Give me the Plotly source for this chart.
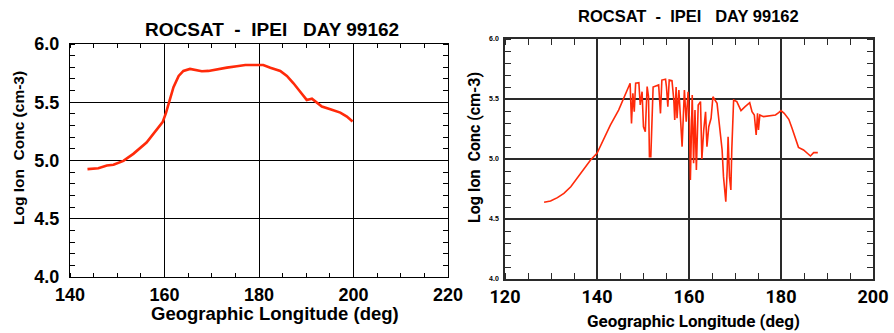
import plotly.graph_objects as go

# Pass 1: smooth profile (longitude in deg, log10 ion concentration)
lon_a = [143.7, 146.0, 147.8, 149.2, 151.3, 153.4, 156.2, 158.4, 159.6, 160.3,
         161.0, 161.9, 163.0, 164.0, 165.4, 166.5, 167.9, 169.3, 171.1, 173.2,
         175.3, 177.1, 178.8, 180.9, 182.4, 184.5, 185.9, 187.3, 189.1, 190.1,
         191.2, 191.9, 193.3, 195.1, 197.2, 198.6, 199.8]
conc_a = [4.926, 4.934, 4.957, 4.963, 4.997, 5.057, 5.154, 5.263, 5.329, 5.406,
          5.506, 5.629, 5.726, 5.769, 5.786, 5.780, 5.766, 5.769, 5.783, 5.797,
          5.809, 5.820, 5.820, 5.820, 5.797, 5.769, 5.726, 5.663, 5.571, 5.520,
          5.531, 5.506, 5.463, 5.440, 5.411, 5.377, 5.334]

# Pass 2: structured profile with depletions
lon_b = [128.5, 129.9, 131.4, 132.8, 134.3, 135.7, 137.2, 138.6, 140.0, 141.4,
         142.9, 144.7, 146.2, 147.2, 147.5, 147.8, 148.1, 148.4, 149.1, 149.4,
         149.8, 150.1, 150.5, 150.9, 151.2, 151.4, 151.7, 151.96, 152.2, 153.4,
         153.8, 154.1, 154.9, 155.1, 155.4, 155.7, 156.3, 156.7, 156.9, 157.2,
         157.4, 157.8, 158.1, 158.5, 159.0, 159.4, 159.8, 160.1, 160.3, 160.7,
         161.0, 161.3, 161.6, 162.0, 162.5, 162.8, 163.2, 163.6, 163.9, 164.3,
         164.8, 165.2, 166.1, 166.7, 167.2, 167.5, 168.0, 168.3, 168.5, 168.8,
         169.1, 169.3, 169.7, 170.4, 171.3, 172.2, 173.2, 173.7, 174.2, 174.6,
         174.9, 175.1, 175.4, 176.2, 177.7, 178.8, 179.5, 180.0, 180.7, 181.7,
         182.4, 183.1, 183.8, 184.9, 185.7, 186.4, 187.1, 188.0]
conc_b = [4.639, 4.650, 4.678, 4.714, 4.769, 4.839, 4.914, 4.992, 5.047, 5.158,
          5.283, 5.408, 5.533, 5.631, 5.297, 5.547, 5.394, 5.631, 5.636, 5.450,
          5.561, 5.269, 5.228, 5.603, 5.520, 5.019, 5.019, 5.270, 5.600, 5.617,
          5.380, 5.658, 5.664, 5.600, 5.436, 5.658, 5.653, 5.490, 5.325, 5.600,
          5.339, 5.575, 5.380, 5.103, 5.575, 5.311, 5.561, 5.325, 4.825, 5.533,
          4.964, 5.408, 4.908, 5.450, 5.478, 5.000, 5.242, 5.394, 5.103, 5.269,
          5.339, 5.519, 5.464, 5.269, 5.075, 4.853, 4.644, 4.908, 5.186, 4.853,
          4.742, 5.075, 5.492, 5.478, 5.403, 5.436, 5.469, 5.394, 5.367, 5.200,
          5.380, 5.242, 5.367, 5.353, 5.361, 5.367, 5.386, 5.403, 5.381, 5.331,
          5.256, 5.172, 5.097, 5.075, 5.047, 5.025, 5.053, 5.053]

title_text = "ROCSAT  -  IPEI   DAY 99162"
xlabel = "Geographic Longitude (deg)"
ylabel = "Log Ion  Conc (cm-3)"
xticks_a = [140, 160, 180, 200, 220]
xticks_b = [120, 140, 160, 180, 200]
yticks = [4.0, 4.5, 5.0, 5.5, 6.0]

LINE = "#ff2a0a"
W, H = 894, 333
LIB = "Liberation Sans, Arial, sans-serif"
ROB = "Roboto, Liberation Sans, sans-serif"

fig = go.Figure()
fig.add_trace(go.Scatter(x=lon_a, y=conc_a, mode="lines", xaxis="x", yaxis="y",
                         line=dict(color=LINE, width=2.6), showlegend=False))
fig.add_trace(go.Scatter(x=lon_b, y=conc_b, mode="lines", xaxis="x2", yaxis="y2",
                         line=dict(color=LINE, width=1.6), showlegend=False))
# empty traces that hold the tick-only overlay subplots
fig.add_trace(go.Scatter(x=[None], y=[None], xaxis="x3", yaxis="y3", showlegend=False))
fig.add_trace(go.Scatter(x=[None], y=[None], xaxis="x4", yaxis="y4", showlegend=False))


def axis(rng, tickvals, dom, anchor, lw, lc, family, size, fmt, gap, dtick, ticklen):
    # labelled axis carrying the frame, the major grid and the minor ticks;
    # the invisible major tick sets the gap between frame and labels
    return dict(domain=dom, anchor=anchor, range=rng, tickmode="array",
                tickvals=tickvals,
                ticktext=["<b>" + fmt.format(v) + "</b>" for v in tickvals],
                showline=True, linecolor=lc, linewidth=lw, mirror="allticks",
                showgrid=True, gridcolor=lc, gridwidth=lw, zeroline=False,
                ticks="outside", ticklen=gap, tickcolor="rgba(0,0,0,0)",
                tickfont=dict(family=family, size=size, color="black"),
                minor=dict(tickmode="linear", tick0=0, dtick=dtick, ticks="inside",
                           ticklen=ticklen, tickcolor=lc, showgrid=False))


def tick_axis(rng, dom, overlay, anchor, side, dtick, ticklen, lc):
    # overlay axis drawing the short inward ticks on both edges of the frame;
    # its own labels are kept tiny and fully transparent
    return dict(domain=dom, range=rng, overlaying=overlay, anchor=anchor, side=side,
                tickmode="linear", tick0=0, dtick=dtick, ticks="inside",
                ticklen=ticklen, tickcolor=lc, mirror="ticks",
                tickfont=dict(size=1, color="rgba(0,0,0,0)"),
                showgrid=False, zeroline=False)


dx_a = [70 / W, 448 / W]
dy_a = [1 - 277 / H, 1 - 44 / H]
dx_b = [505 / W, 873 / W]
dy_b = [1 - 279 / H, 1 - 39 / H]

fig.update_layout(
    width=W, height=H, margin=dict(l=0, r=0, t=0, b=0, autoexpand=False),
    plot_bgcolor="rgba(0,0,0,0)", paper_bgcolor="white",
    xaxis=axis([140, 220], xticks_a, dx_a, "y", 1, "black", LIB, 18, "{:d}", 1, 5, 4),
    yaxis=axis([4.0, 6.0], yticks, dy_a, "x", 1, "black", LIB, 18, "{:.1f}", 6, 0.1, 5),
    xaxis2=axis([120, 200], xticks_b, dx_b, "y2", 1.5, "#2a2a2a", ROB, 18, "{:d}", 1, 5, 6),
    yaxis2=axis([4.0, 6.0], yticks, dy_b, "x2", 1.5, "#2a2a2a", LIB, 7, "{:.1f}", 3, 0.1, 6),
    xaxis3=tick_axis([140, 220], dx_a, "x", "y3", "bottom", 5, 4, "black"),
    yaxis3=tick_axis([4.0, 6.0], dy_a, "y", "x3", "left", 0.1, 5, "black"),
    xaxis4=tick_axis([120, 200], dx_b, "x2", "y4", "bottom", 5, 6, "#2a2a2a"),
    yaxis4=tick_axis([4.0, 6.0], dy_b, "y2", "x4", "left", 0.1, 6, "#2a2a2a"),
)

ann = []
# panel titles
ann.append(dict(text="<b>" + title_text + "</b>", x=272 / W, y=1 - 29 / H,
                font=dict(size=19, family=LIB)))
ann.append(dict(text="<b>" + title_text + "</b>", x=688 / W, y=1 - 16 / H,
                font=dict(size=16.5, family=LIB)))
# x-axis titles
ann.append(dict(text="<b>" + xlabel + "</b>", x=275 / W, y=1 - 313 / H,
                font=dict(size=18.5, family=LIB)))
ann.append(dict(text="<b>" + xlabel + "</b>", x=693 / W, y=1 - 321 / H,
                font=dict(size=17, family=ROB)))
# y-axis titles
ann.append(dict(text="<b>" + ylabel + "</b>", x=18 / W, y=1 - 148 / H, textangle=-90,
                font=dict(size=15.5, family=LIB)))
ann.append(dict(text="<b>" + ylabel + "</b>", x=474 / W, y=1 - 148 / H, textangle=-90,
                font=dict(size=16, family=ROB)))
for a in ann:
    a["font"]["color"] = "black"
    a.update(xref="paper", yref="paper", showarrow=False, xanchor="center", yanchor="middle")
fig.update_layout(annotations=ann)

fig.write_html("out.html")
